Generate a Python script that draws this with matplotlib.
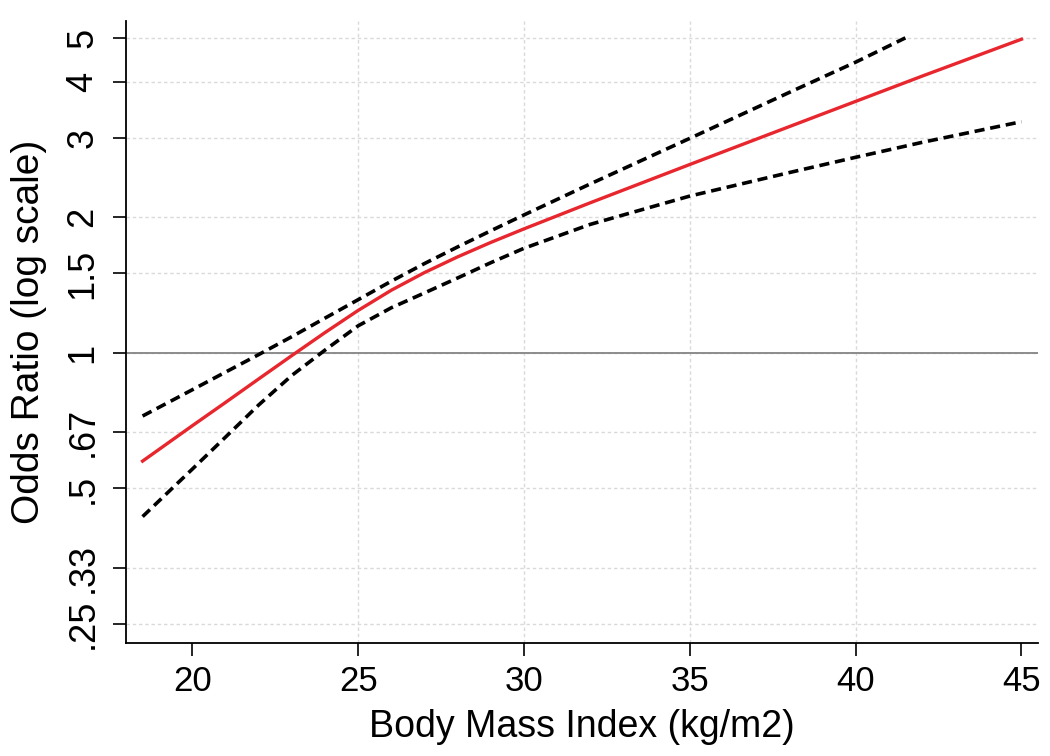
import numpy as np
import matplotlib
matplotlib.use("Agg")
import matplotlib.pyplot as plt

# BMI grid and odds ratios
bmi = [18.5, 20, 21, 22, 23, 24, 25, 26, 27, 28, 29, 30, 32, 35, 38, 40, 42, 45]
odds = [0.575, 0.689, 0.776, 0.875, 0.986, 1.109, 1.242, 1.377, 1.507, 1.633,
        1.758, 1.884, 2.153, 2.618, 3.177, 3.614, 4.111, 4.966]

bmi_upper = [18.5, 20, 21, 22, 23, 24, 25, 26, 27, 28, 29, 30, 32, 35, 38, 40, 41.5]
upper = [0.724, 0.828, 0.906, 0.991, 1.086, 1.194, 1.312, 1.442, 1.578, 1.718,
         1.866, 2.023, 2.371, 2.992, 3.784, 4.416, 5.000]

bmi_lower = [18.5, 20, 21, 22, 23, 24, 25, 26, 27, 28, 29, 30, 32, 35, 38, 40, 42, 45]
lower = [0.433, 0.552, 0.650, 0.766, 0.891, 1.014, 1.148, 1.259, 1.358, 1.466,
         1.585, 1.706, 1.928, 2.228, 2.512, 2.716, 2.931, 3.258]

yticks = [0.25, 1 / 3, 0.5, 2 / 3, 1, 1.5, 2, 3, 4, 5]
ylabels = [".25", ".33", ".5", ".67", "1", "1.5", "2", "3", "4", "5"]
xticks = [20, 25, 30, 35, 40, 45]
xgrid = [25, 30, 35, 40]

plt.rcParams["font.family"] = ["Liberation Sans", "DejaVu Sans"]

fig = plt.figure(figsize=(10.5, 7.56), dpi=100)
ax = fig.add_axes([0.12, 0.1495, 0.8686, 0.8227])

ax.set_yscale("log")
ax.set_xlim(18.0, 45.5)
ax.set_ylim(0.227, 5.45)

# light dotted grid, reference line at OR = 1
for y in yticks:
    ax.axhline(y, color="#dadada", lw=1.0, ls=(0, (2.5, 2)), zorder=0)
for x in xgrid:
    ax.axvline(x, color="#dadada", lw=1.0, ls=(0, (2.5, 2)), zorder=0)
ax.axhline(1, color="#8c8c8c", lw=1.4, zorder=1)

ax.plot(bmi_upper, upper, color="black", lw=2.6, ls=(0, (2.8, 1.6)), zorder=2)
ax.plot(bmi_lower, lower, color="black", lw=2.6, ls=(0, (2.8, 1.6)), zorder=2)
ax.plot(bmi, odds, color="#e8262e", lw=2.4, zorder=3)

ax.set_yticks(yticks)
ax.set_yticklabels(ylabels, rotation=90, va="center", fontsize=26)
ax.yaxis.set_minor_locator(matplotlib.ticker.NullLocator())
ax.set_xticks(xticks)
ax.set_xticklabels([str(t) for t in xticks], fontsize=25)

ax.tick_params(axis="both", direction="out", length=9.5, width=1.2,
               color="black")
ax.tick_params(axis="y", pad=9)
ax.tick_params(axis="x", pad=6)
ax.spines["top"].set_visible(False)
ax.spines["right"].set_visible(False)
ax.spines["left"].set_linewidth(1.3)
ax.spines["bottom"].set_linewidth(1.3)

ax.set_xlabel("Body Mass Index (kg/m2)", fontsize=27, labelpad=8)
ax.set_ylabel("Odds Ratio (log scale)", fontsize=28, labelpad=13)

fig.savefig("out.png", dpi=100)
